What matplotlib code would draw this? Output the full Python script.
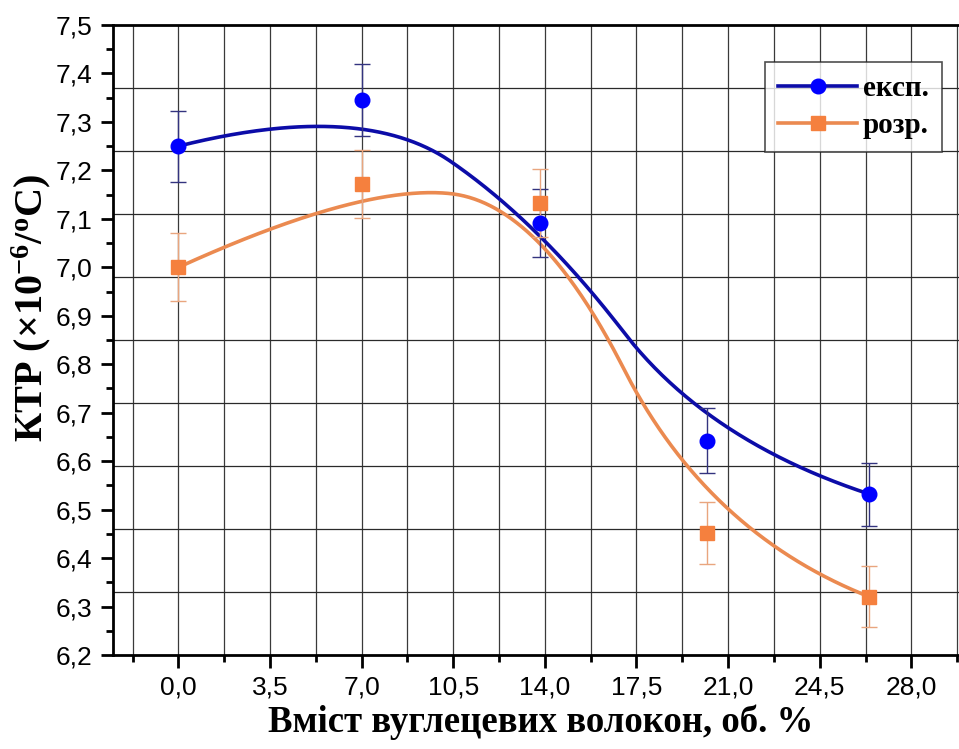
import numpy as np
import matplotlib
matplotlib.use("Agg")
from matplotlib import pyplot as plt
from matplotlib.ticker import MultipleLocator, FuncFormatter

# data
fiber = [0.0, 7.0, 13.8, 20.2, 26.4]
ktr_exp = [7.25, 7.345, 7.092, 6.642, 6.532]
err_exp = [0.073, 0.074, 0.07, 0.067, 0.065]
ktr_calc = [7.0, 7.172, 7.132, 6.452, 6.32]
err_calc = [0.07, 0.071, 0.07, 0.064, 0.063]

x_ticks = [0.0, 3.5, 7.0, 10.5, 14.0, 17.5, 21.0, 24.5, 28.0]
labels = ["експ.", "розр."]

plt.rcParams['mathtext.fontset'] = 'custom'
plt.rcParams['mathtext.rm'] = 'Liberation Serif:bold'
plt.rcParams['mathtext.it'] = 'Liberation Serif:bold'
plt.rcParams['mathtext.bf'] = 'Liberation Serif:bold'


def bspline(xs, ys, k=2, num=400):
    # clamped B-spline through the end points, like Origin's "B-Spline" connect
    pts = np.column_stack([xs, ys]).astype(float)
    n = len(pts)
    knots = np.concatenate([np.zeros(k), np.linspace(0, 1, n - k + 1), np.ones(k)])
    us = np.linspace(0, 1, num)
    out = []
    for u in us:
        span = np.searchsorted(knots, u, side='right') - 1
        span = min(span, n - 1)
        d = [pts[j + span - k].copy() for j in range(k + 1)]
        for r in range(1, k + 1):
            for j in range(k, r - 1, -1):
                i = j + span - k
                den = knots[i + k + 1 - r] - knots[i]
                a = 0.0 if den == 0 else (u - knots[i]) / den
                d[j] = (1 - a) * d[j - 1] + a * d[j]
        out.append(d[k])
    out = np.array(out)
    return out[:, 0], out[:, 1]


fig = plt.figure(figsize=(9.59, 7.49), dpi=100)
ax = fig.add_axes([113 / 959, 1 - 655 / 749, 903 / 959, 630 / 749])
ax.set_xlim(-2.5, 32)
ax.set_ylim(6.2, 7.5)

### ### ### grid  ### ### ###
for gx in np.arange(-1.75, 32, 1.75):
    ax.axvline(gx, color='#3a3a3a', lw=0.9, zorder=0)
for gy in np.linspace(6.2, 7.5, 11)[1:-1]:
    ax.axhline(gy, color='#2a2a2a', lw=0.9, zorder=0)

blue_line = '#0C0CA8'
blue_mark = '#0000FF'
orange_line = '#EB8A50'
orange_mark = '#F5803E'

sx, sy = bspline(fiber, ktr_exp)
ax.plot(sx, sy, color=blue_line, lw=2.6, zorder=3)
sx, sy = bspline(fiber, ktr_calc)
ax.plot(sx, sy, color=orange_line, lw=2.6, zorder=3)

ax.errorbar(fiber, ktr_exp, yerr=err_exp, fmt='none', ecolor='#33337F',
            elinewidth=1.0, capsize=5.5, capthick=1.0, zorder=4)
ax.errorbar(fiber, ktr_calc, yerr=err_calc, fmt='none', ecolor='#E9A57E',
            elinewidth=1.0, capsize=5.5, capthick=1.0, zorder=4)
ax.plot(fiber, ktr_exp, 'o', color=blue_mark, ms=10.5, mec=blue_mark, zorder=5)
ax.plot(fiber, ktr_calc, 's', color=orange_mark, ms=9.5, mec=orange_mark, zorder=5)

# legend handles: line - marker - line
h1, = ax.plot([], [], color=blue_line, lw=2.6, marker='o', ms=10.5,
              mfc=blue_mark, mec=blue_mark)
h2, = ax.plot([], [], color=orange_line, lw=2.6, marker='s', ms=9.5,
              mfc=orange_mark, mec=orange_mark)
leg = fig.legend([h1, h2], labels, loc='upper right',
                 bbox_to_anchor=(942 / 959, 1 - 62 / 749),
                 prop={'family': 'Liberation Serif', 'weight': 'bold', 'size': 21},
                 frameon=True, fancybox=False, edgecolor='#222222',
                 handlelength=2.7, handletextpad=0.2, borderpad=0.45,
                 labelspacing=0.35, borderaxespad=0)
leg.get_frame().set_linewidth(1.2)

### ### ### axes  ### ### ###
for side in ['left', 'bottom', 'top']:
    ax.spines[side].set_linewidth(2.0)
ax.spines['right'].set_visible(False)

ax.set_xticks(x_ticks)
ax.xaxis.set_minor_locator(MultipleLocator(1.75))
ax.yaxis.set_major_locator(MultipleLocator(0.1))
ax.yaxis.set_minor_locator(MultipleLocator(0.05))
fmt = FuncFormatter(lambda v, p: f'{v:.1f}'.replace('.', ','))
ax.xaxis.set_major_formatter(fmt)
ax.yaxis.set_major_formatter(fmt)
ax.tick_params(which='major', direction='out', length=9, width=2.0,
               labelsize=19, pad=6)
ax.tick_params(which='minor', direction='out', length=5, width=2.0)
for lab in ax.get_xticklabels() + ax.get_yticklabels():
    lab.set_fontfamily('Liberation Sans')

fig.text(541 / 959, 1 - 722 / 749, 'Вміст вуглецевих волокон, об. %',
         ha='center', va='center', family='Liberation Serif',
         weight='bold', size=26.5)
fig.text(31 / 959, 1 - 308 / 749, r'КТР (×10$^{-6}$/$^{o}$C)',
         ha='center', va='center', rotation=90, family='Liberation Serif',
         weight='bold', size=29)

fig.savefig('out.png', dpi=100)
